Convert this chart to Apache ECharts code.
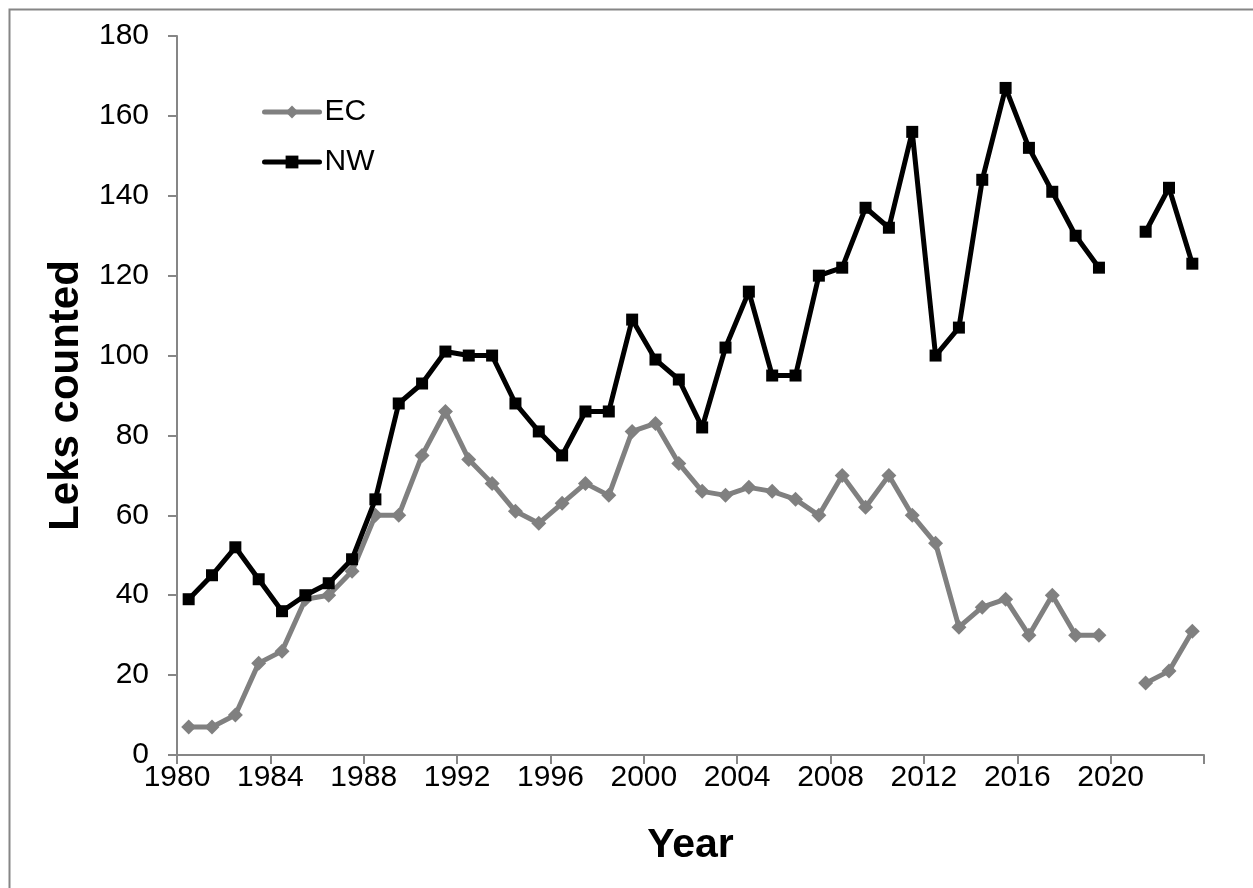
<!DOCTYPE html>
<html>
<head>
<meta charset="utf-8">
<script src="https://cdn.jsdelivr.net/npm/echarts@6/dist/echarts.min.js"></script>
<style>
html,body{margin:0;padding:0;background:#fff;}
#chart{width:1253px;height:888px;}
</style>
</head>
<body>
<div id="chart"></div>
<script>
const years = [1980,1981,1982,1983,1984,1985,1986,1987,1988,1989,1990,1991,1992,1993,1994,1995,1996,1997,1998,1999,2000,2001,2002,2003,2004,2005,2006,2007,2008,2009,2010,2011,2012,2013,2014,2015,2016,2017,2018,2019,2020,2021,2022,2023];
const ecValues = [7,7,10,23,26,39,40,46,60,60,75,86,74,68,61,58,63,68,65,81,83,73,66,65,67,66,64,60,70,62,70,60,53,32,37,39,30,40,30,30,null,18,21,31];
const nwValues = [39,45,52,44,36,40,43,49,64,88,93,101,100,100,88,81,75,86,86,109,99,94,82,102,116,95,95,120,122,137,132,156,100,107,144,167,152,141,130,122,null,131,142,123];
const xTicks = {min:1980, max:2024, interval:4};
const yTicks = {min:0, max:180, interval:20};

const FONT = 'Arial, "Liberation Sans", sans-serif';
const AXIS = '#868686';
// each year's value is plotted at the middle of its year span
const toPoints = vals => years.map((y,i)=>[y+0.5, vals[i]===null ? '-' : vals[i]]);

const chart = echarts.init(document.getElementById('chart'), null, {renderer:'canvas'});
chart.setOption({
  backgroundColor:'#fff',
  animation:false,
  graphic:[{type:'rect', left:7, top:7, shape:{x:0,y:0,width:1400,height:1000}, style:{fill:'none', stroke:AXIS, lineWidth:2}, silent:true}],
  grid:{left:177, right:49, top:36, bottom:133, containLabel:false},
  legend:{
    orient:'vertical', left:262, top:97, padding:0, itemGap:20, itemWidth:55, itemHeight:16,
    lineStyle:{width:5, cap:'round'},
    textStyle:{fontFamily:FONT, fontSize:30, color:'#000', lineHeight:30},
    data:['EC','NW']
  },
  xAxis:{
    type:'value', min:xTicks.min, max:xTicks.max, interval:xTicks.interval,
    name:'Year', nameLocation:'middle', nameGap:70,
    nameTextStyle:{fontFamily:FONT, fontSize:41, fontWeight:'bold', color:'#000'},
    axisLine:{show:true, lineStyle:{color:AXIS, width:2}},
    axisTick:{show:true, length:9, lineStyle:{color:AXIS, width:2}},
    axisLabel:{fontFamily:FONT, fontSize:30, color:'#000', margin:8,
      formatter: v => v === xTicks.max ? '' : String(v)},
    splitLine:{show:false}
  },
  yAxis:{
    type:'value', min:yTicks.min, max:yTicks.max, interval:yTicks.interval,
    name:'Leks counted', nameLocation:'middle', nameGap:90,
    nameTextStyle:{fontFamily:FONT, fontSize:42, fontWeight:'bold', color:'#000'},
    axisLine:{show:true, lineStyle:{color:AXIS, width:2}},
    axisTick:{show:true, length:9, lineStyle:{color:AXIS, width:2}},
    axisLabel:{fontFamily:FONT, fontSize:30, color:'#000', margin:28},
    splitLine:{show:false}
  },
  series:[
    {name:'EC', type:'line', data:toPoints(ecValues), connectNulls:false,
     symbol:'diamond', symbolSize:15, showAllSymbol:true,
     lineStyle:{color:'#808080', width:5, cap:'round', join:'round'}, itemStyle:{color:'#808080'}, z:2},
    {name:'NW', type:'line', data:toPoints(nwValues), connectNulls:false,
     symbol:'rect', symbolSize:12, showAllSymbol:true,
     lineStyle:{color:'#000', width:5, cap:'round', join:'round'}, itemStyle:{color:'#000'}, z:3}
  ]
});
</script>
</body>
</html>
